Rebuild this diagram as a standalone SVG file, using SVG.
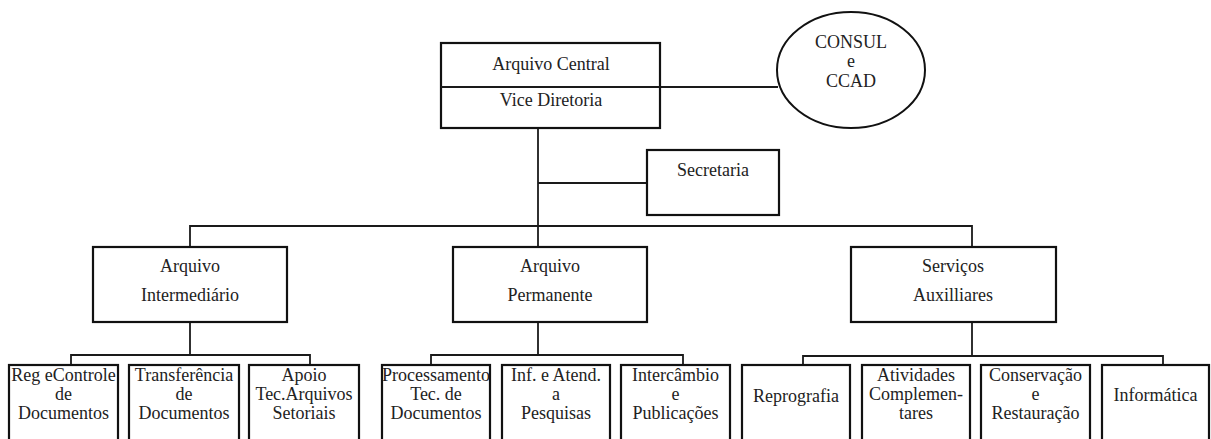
<svg xmlns="http://www.w3.org/2000/svg" width="1211" height="439" viewBox="0 0 1211 439">
<style>
.box{fill:#fff;stroke:#111;stroke-width:2.2}
.conn{fill:none;stroke:#1a1a1a;stroke-width:1.8}
.t{font-family:"Liberation Serif","DejaVu Serif","Times New Roman",serif;font-size:18px;fill:#222;text-anchor:middle}
</style>
<rect width="1211" height="439" fill="#fff"/>
<g id="connectors">
<line class="conn" x1="660" y1="87" x2="778" y2="87"/>
<line class="conn" x1="538" y1="128" x2="538" y2="247"/>
<line class="conn" x1="538" y1="183" x2="647" y2="183"/>
<polyline class="conn" points="190,247 190,226 972,226 972,247"/>
<line class="conn" x1="190" y1="322" x2="190" y2="355"/>
<polyline class="conn" points="71,365 71,355 310,355 310,365"/>
<line class="conn" x1="538" y1="322" x2="538" y2="355"/>
<polyline class="conn" points="431,365 431,355 683,355 683,365"/>
<line class="conn" x1="972" y1="322" x2="972" y2="356"/>
<polyline class="conn" points="803,365 803,356 1163,356 1163,365"/>
</g>
<g id="arquivo-central" class="t">
<rect class="box" x="441" y="43" width="219" height="85"/>
<line class="conn" x1="441" y1="87" x2="660" y2="87"/>
<text x="551" y="70">Arquivo Central</text>
<text x="551" y="106">Vice Diretoria</text>
</g>
<g id="consul" class="t">
<ellipse cx="851" cy="70" rx="74" ry="58" fill="#fff" stroke="#111" stroke-width="2"/>
<text x="851" y="48">CONSUL</text>
<text x="851" y="67">e</text>
<text x="851" y="87">CCAD</text>
</g>
<g id="secretaria" class="t">
<rect class="box" x="647" y="150" width="132" height="65"/>
<text x="713" y="176">Secretaria</text>
</g>
<g id="arquivo-intermediario" class="t">
<rect class="box" x="93" y="247" width="194" height="75"/>
<text x="190" y="272">Arquivo</text>
<text x="190" y="301">Intermediário</text>
</g>
<g id="arquivo-permanente" class="t">
<rect class="box" x="453" y="247" width="194" height="75"/>
<text x="550" y="272">Arquivo</text>
<text x="550" y="301">Permanente</text>
</g>
<g id="servicos-auxiliares" class="t">
<rect class="box" x="851" y="247" width="205" height="75"/>
<text x="953" y="272">Serviços</text>
<text x="953" y="301">Auxilliares</text>
</g>
<g id="reg-controle" class="t">
<rect class="box" x="9" y="365" width="109" height="85"/>
<text x="63.5" y="381">Reg eControle</text>
<text x="63.5" y="400">de</text>
<text x="63.5" y="419">Documentos</text>
</g>
<g id="transferencia" class="t">
<rect class="box" x="129" y="365" width="110" height="85"/>
<text x="184" y="381">Transferência</text>
<text x="184" y="400">de</text>
<text x="184" y="419">Documentos</text>
</g>
<g id="apoio" class="t">
<rect class="box" x="249" y="365" width="110" height="85"/>
<text x="304" y="381">Apoio</text>
<text x="304" y="400">Tec.Arquivos</text>
<text x="304" y="419">Setoriais</text>
</g>
<g id="processamento" class="t">
<rect class="box" x="382" y="365" width="108" height="85"/>
<text x="436" y="381">Processamento</text>
<text x="436" y="400">Tec. de</text>
<text x="436" y="419">Documentos</text>
</g>
<g id="inf-atend" class="t">
<rect class="box" x="502" y="365" width="108" height="85"/>
<text x="556" y="381">Inf. e Atend.</text>
<text x="556" y="400">a</text>
<text x="556" y="419">Pesquisas</text>
</g>
<g id="intercambio" class="t">
<rect class="box" x="621" y="365" width="109" height="85"/>
<text x="675.5" y="381">Intercâmbio</text>
<text x="675.5" y="400">e</text>
<text x="675.5" y="419">Publicações</text>
</g>
<g id="reprografia" class="t">
<rect class="box" x="742" y="365" width="108" height="85"/>
<text x="796" y="402">Reprografia</text>
</g>
<g id="atividades" class="t">
<rect class="box" x="862" y="365" width="108" height="85"/>
<text x="916" y="381">Atividades</text>
<text x="916" y="400">Complemen-</text>
<text x="916" y="419">tares</text>
</g>
<g id="conservacao" class="t">
<rect class="box" x="981" y="365" width="109" height="85"/>
<text x="1035.5" y="381">Conservação</text>
<text x="1035.5" y="400">e</text>
<text x="1035.5" y="419">Restauração</text>
</g>
<g id="informatica" class="t">
<rect class="box" x="1102" y="365" width="107" height="85"/>
<text x="1155.5" y="401">Informática</text>
</g>
</svg>
